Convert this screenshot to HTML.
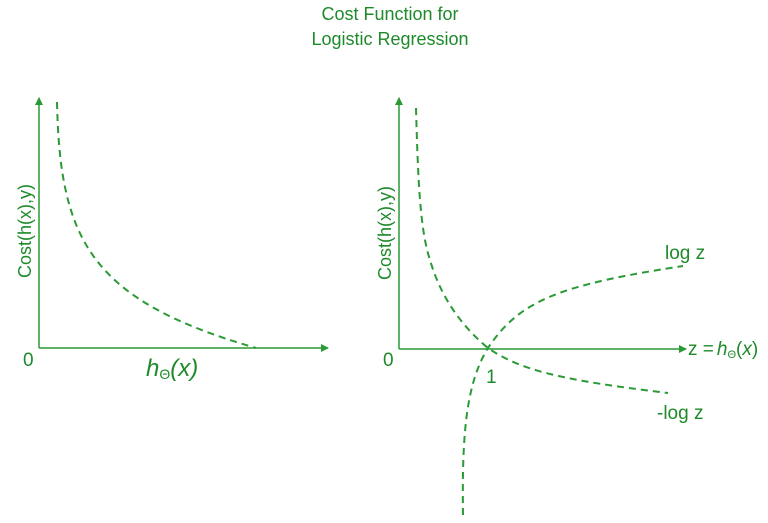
<!DOCTYPE html>
<html><head><meta charset="utf-8"><style>
html,body{margin:0;padding:0;background:#fff;}
svg{display:block;}
text{font-family:"Liberation Sans",sans-serif;fill:#1e8a2a;}
</style></head><body>
<svg width="768" height="523" viewBox="0 0 768 523" xmlns="http://www.w3.org/2000/svg">
<defs>
<marker id="a" markerWidth="8" markerHeight="8" refX="7" refY="4" orient="auto" markerUnits="userSpaceOnUse">
<path d="M0,0 L8,4 L0,8 z" fill="#2a9a35"/>
</marker>
</defs>
<text x="390" y="20" font-size="18" text-anchor="middle">Cost Function for</text>
<text x="390" y="45" font-size="18" text-anchor="middle">Logistic Regression</text>

<g stroke="#2a9a35" stroke-width="1.5" fill="none">
<line x1="39" y1="348" x2="39" y2="98" marker-end="url(#a)"/>
<line x1="39" y1="348" x2="328" y2="348" marker-end="url(#a)"/>
<line x1="399" y1="349" x2="399" y2="98" marker-end="url(#a)"/>
<line x1="399" y1="349" x2="686" y2="349" marker-end="url(#a)"/>
</g>
<g stroke="#2a9a35" stroke-width="2" fill="none" stroke-dasharray="7,5">
<path d="M57,102 C60,240 90,300 256,348"/>
<path d="M416,108 C418,180 420,230 430,260 C440,295 460,325 488,348 C520,370 560,380 668,393"/>
<path d="M463,515 C462,440 465,385 488,348 C520,300 560,285 683,266"/>
</g>

<text x="25" y="231" font-size="18" text-anchor="middle" transform="rotate(-90 25 231)" dy="6">Cost(h(x),y)</text>
<text x="385" y="233" font-size="18" text-anchor="middle" transform="rotate(-90 385 233)" dy="6">Cost(h(x),y)</text>
<text x="23" y="366" font-size="19">0</text>
<text x="383" y="366" font-size="19">0</text>
<text x="146" y="376" font-size="24" font-style="italic">h<tspan font-size="14" font-style="normal" dy="3">Θ</tspan><tspan dy="-3">(x)</tspan></text>
<text x="486" y="383" font-size="19">1</text>
<text x="665" y="259" font-size="19">log z</text>
<text x="657" y="419" font-size="19">-log z</text>
<text x="688" y="355" font-size="19">z =<tspan font-style="italic" dx="3">h</tspan><tspan font-size="11" dy="3">Θ</tspan><tspan dy="-3">(</tspan><tspan font-style="italic">x</tspan>)</text>
</svg>
</body></html>
